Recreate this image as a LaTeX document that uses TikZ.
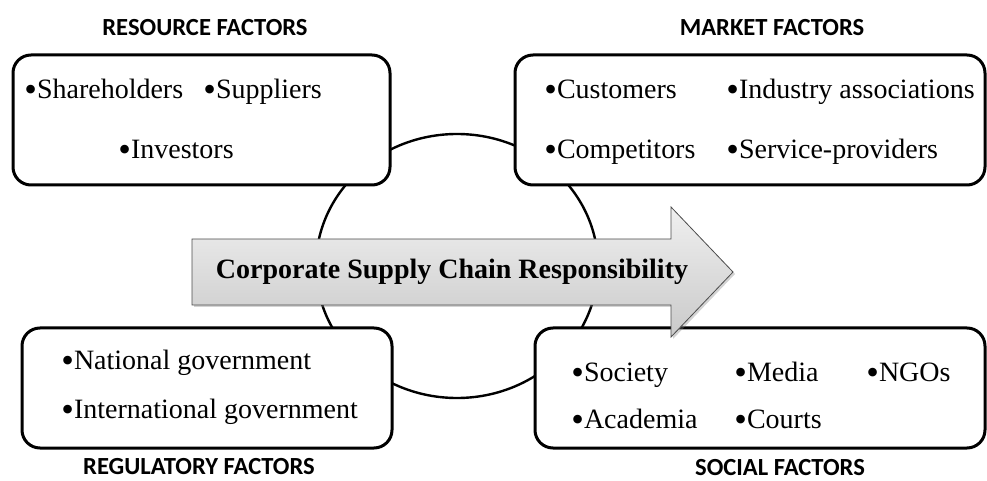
\documentclass[tikz,border=0pt]{standalone}
\usepackage{fontspec}
\setmainfont{Liberation Serif}
\newfontfamily\hdfont{Carlito}
\usetikzlibrary{positioning,shadows}
\newcommand\bul{\raisebox{-1.4pt}{\fontsize{18}{16}\selectfont•}}

\tikzset{
	box/.style={draw, line width=1.5pt, rounded corners=9pt, fill=white},
	item/.style={anchor=west, inner sep=0pt, text height=9.5pt, text depth=3pt, font=\fontsize{14}{16}\selectfont},
	factor/.style={font=\hdfont\bfseries\fontsize{12.3}{14}\selectfont},
}

\begin{document}
\begin{tikzpicture}[x=0.5pt,y=-0.5pt]
		\useasboundingbox (0,0) rectangle (987,481);
		\draw[line width=1.2pt] (457,266) ellipse [x radius=70.5pt, y radius=66pt];
		% the four groups of factors
		\node[name=res, box, minimum width=188.5pt, minimum height=65pt] at (201.5,120) {};
		\node[name=mkt, box, minimum width=235pt, minimum height=65pt] at (750,120) {};
		\node[name=reg, box, minimum width=185pt, minimum height=60pt] at (207,388) {};
		\node[name=soc, box, minimum width=225pt, minimum height=60pt] at (760,388) {};
		\node[factor] (resh) at (205,28) {RESOURCE FACTORS};
		\node[factor] (mkth) at (772,28) {MARKET FACTORS};
		\node[factor] (regh) at (199,467) {REGULATORY FACTORS};
		\node[factor] (soch) at (780,468) {SOCIAL FACTORS};
		\node[item] (sh) at (24,92) {\bul Shareholders};
		\node[item] (su) at (203,92) {\bul Suppliers};
		\node[item] (inv) at (118,152) {\bul Investors};
		\node[item] (cu) at (544,92) {\bul Customers};
		\node[item] (ia) at (726,92) {\bul Industry associations};
		\node[item] (co) at (544,152) {\bul Competitors};
		\node[item] (sp) at (726,152) {\bul Service-providers};
		\node[item] (nat) at (61,363) {\bul National government};
		\node[item] (int) at (61,412) {\bul International government};
		\node[item] (so) at (571,375) {\bul Society};
		\node[item] (me) at (734,375) {\bul Media};
		\node[item] (ngo) at (866,375) {\bul NGOs};
		\node[item] (ac) at (571,422) {\bul Academia};
		\node[item] (ct) at (734,422) {\bul Courts};
		% big arrow
		\draw[draw=gray!60!black, top color=gray!12, bottom color=gray!42,
			drop shadow={shadow xshift=1pt, shadow yshift=-1pt, opacity=0.35}]
			(192,239) -- (671,239) -- (671,207) -- (733,272) -- (671,337) -- (671,305) -- (192,305) -- cycle;
		\node[font=\bfseries\fontsize{14}{16}\selectfont] (cscr) at (452,272) {Corporate Supply Chain Responsibility};
	\end{tikzpicture}
\end{document}
